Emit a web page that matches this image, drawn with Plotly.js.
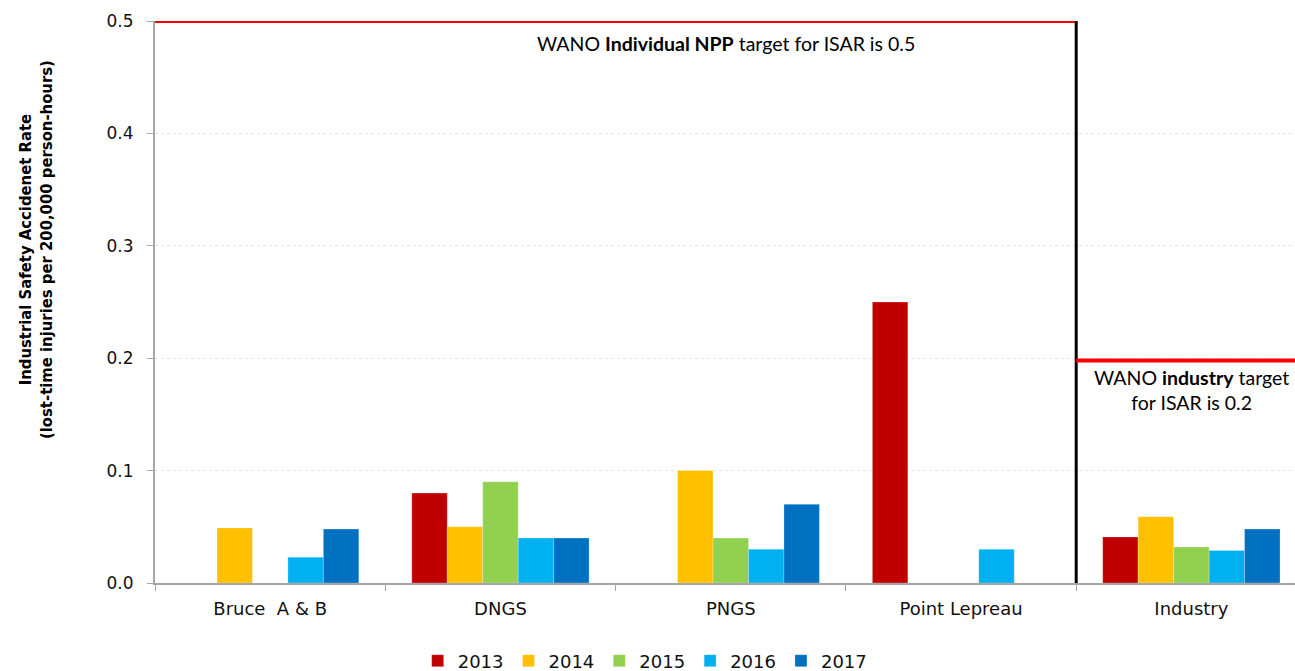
<!DOCTYPE html>
<html><head><meta charset="utf-8">
<script src="https://cdn.plot.ly/plotly-3.0.1.min.js"></script>
<style>body{margin:0;background:#fff}#chart{width:1295px;height:671px}</style>
</head><body><div id="chart"></div>
<script>
const categories = ["Bruce  A & B", "DNGS", "PNGS", "Point Lepreau", "Industry"];
const years = ["2013", "2014", "2015", "2016", "2017"];
const colors = ["#C00000", "#FFC000", "#92D050", "#00B0F0", "#0070C0"];
const v2013 = [null, 0.08, null, 0.25, 0.041];
const v2014 = [0.049, 0.05, 0.10, null, 0.059];
const v2015 = [null, 0.09, 0.04, null, 0.032];
const v2016 = [0.023, 0.04, 0.03, 0.03, 0.029];
const v2017 = [0.048, 0.04, 0.07, null, 0.048];
const series = [v2013, v2014, v2015, v2016, v2017];
const npptarget = 0.5;
const industrytarget = 0.198;
const yTicks = [0, 0.1, 0.2, 0.3, 0.4, 0.5];

const traces = series.map((vals, i) => ({
  type: 'bar', x: categories, y: vals, name: years[i],
  marker: {color: colors[i], line: {color: 'rgba(255,255,255,0.5)', width: 0.5}},
  hoverinfo: 'none'
}));

const dv = '"DejaVu Sans", Verdana, sans-serif';
const labelFont = {family: 'Lato, Carlito, Calibri, sans-serif', size: 19.5, color: '#000'};
const layout = {
  width: 1295, height: 671,
  margin: {l: 155, r: 0, t: 21, b: 88},
  paper_bgcolor: '#fff', plot_bgcolor: '#fff',
  barmode: 'group', bargap: 0.23, bargroupgap: 0,
  showlegend: true,
  legend: {orientation: 'h', x: 0.43, xanchor: 'center', yref: 'container', y: 0.015, yanchor: 'middle',
    font: {family: dv, size: 18, color: '#111'}, itemwidth: 30, traceorder: 'normal'},
  xaxis: {range: [-0.5, 4.45], showline: true, linecolor: '#a6a6a6', linewidth: 2,
    ticks: 'outside', tickson: 'boundaries', ticklen: 6, tickcolor: '#a6a6a6',
    tickfont: {family: dv, size: 18, color: '#111'}, ticklabelstandoff: 8,
    showgrid: false, zeroline: false, fixedrange: true},
  yaxis: {range: [0, 0.5], tickvals: yTicks, tickformat: '.1f', showline: true,
    linecolor: '#a6a6a6', linewidth: 2, ticks: 'outside', ticklen: 6, tickcolor: '#a6a6a6',
    tickfont: {family: dv, size: 17, color: '#111'}, ticklabelstandoff: 10,
    showgrid: true, gridcolor: '#e3e8f0', griddash: 'dot', gridwidth: 1, zeroline: false},
  shapes: [
    {type: 'line', xref: 'x', yref: 'y', x0: -0.5, x1: 3.5, y0: npptarget, y1: npptarget,
      line: {color: '#FF0000', width: 4}},
    {type: 'line', xref: 'x', yref: 'y', x0: 3.5, x1: 3.5, y0: 0, y1: npptarget,
      line: {color: '#000', width: 3}},
    {type: 'line', xref: 'x', yref: 'y', x0: 3.5, x1: 4.45, y0: industrytarget, y1: industrytarget,
      line: {color: '#FF0000', width: 4}}
  ],
  annotations: [
    {xref: 'paper', yref: 'paper', x: -0.105, y: 0.593, xanchor: 'center', yanchor: 'middle',
      textangle: -90, showarrow: false,
      text: '<b>Industrial Safety Accidenet Rate<br>(lost-time injuries per 200,000 person-hours)</b>',
      font: {family: '"DejaVu Sans Condensed", "Liberation Sans Narrow", Arial, sans-serif', size: 16.5, color: '#000'}},
    {xref: 'x', yref: 'y', x: 1.98, y: 0.48, yanchor: 'middle', showarrow: false,
      text: 'WANO <b>Individual NPP</b> target for ISAR is 0.5', font: labelFont},
    {xref: 'x', yref: 'y', x: 4.0, y: 0.172, yanchor: 'middle', showarrow: false,
      text: 'WANO <b>industry</b> target<br>for ISAR is 0.2', font: labelFont}
  ]
};
Plotly.newPlot('chart', traces, layout, {displayModeBar: false, staticPlot: true});
</script></body></html>
